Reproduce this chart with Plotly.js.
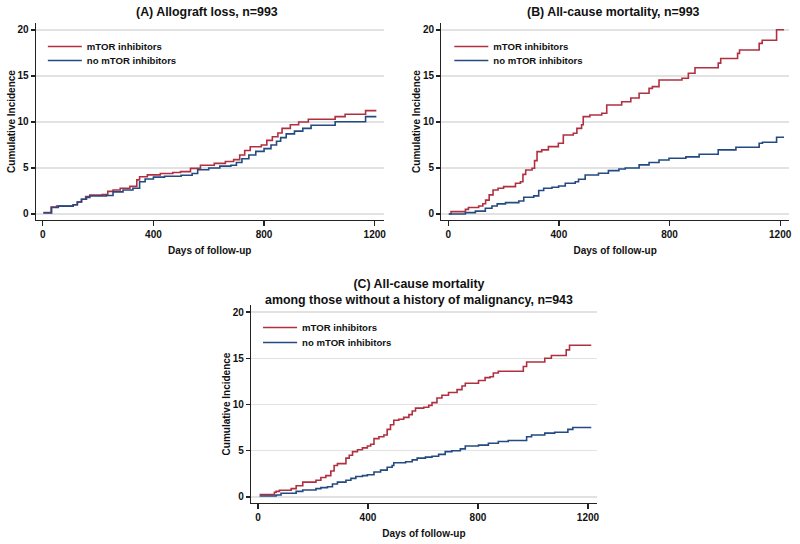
<!DOCTYPE html>
<html><head><meta charset="utf-8">
<script src="https://cdn.plot.ly/plotly-3.0.1.min.js"></script>
<style>html,body{margin:0;padding:0;background:#fff}#chart{width:800px;height:544px}</style>
</head><body><div id="chart"></div>
<script>
// ---- data ----
const seriesNames = ['mTOR inhibitors', 'no mTOR inhibitors'];
const panelTitles = ['(A) Allograft loss, n=993', '(B) All-cause mortality, n=993',
  '(C) All-cause mortality<br>among those without a history of malignancy, n=943'];
const xTitle = 'Days of follow-up';
const yTitle = 'Cumulative Incidence';
const xTicks = [0, 400, 800, 1200];
const yTicks = [0, 5, 10, 15, 20];

// Panel A: allograft loss (step points: day, cumulative incidence %)
const aMtorDays = [2, 30, 50, 110, 125, 140, 155, 170, 215, 235, 254, 280, 315, 340, 350, 378, 425, 470, 498, 534, 570, 620, 660, 690, 712, 730, 750, 790, 810, 830, 850, 865, 895, 925, 960, 1057, 1093, 1167, 1206];
const aMtorInc  = [0.15, 0.75, 0.87, 1.0, 1.3, 1.6, 1.9, 2.05, 2.1, 2.45, 2.6, 2.8, 3.0, 3.7, 4.05, 4.25, 4.4, 4.5, 4.6, 4.95, 5.3, 5.5, 5.7, 5.9, 6.4, 6.9, 7.3, 7.5, 8.0, 8.4, 8.8, 9.3, 9.7, 10.0, 10.29, 10.58, 10.84, 11.23, 11.23];
const aNoDays   = [2, 32, 56, 110, 125, 140, 158, 170, 230, 254, 290, 326, 350, 370, 400, 440, 500, 540, 560, 600, 640, 680, 700, 720, 745, 770, 800, 825, 845, 860, 880, 910, 940, 970, 1057, 1167, 1206];
const aNoInc    = [0.1, 0.7, 0.85, 1.0, 1.3, 1.6, 1.8, 1.95, 2.0, 2.4, 2.6, 2.8, 3.5, 3.8, 4.0, 4.1, 4.2, 4.4, 4.8, 5.0, 5.2, 5.3, 5.6, 6.0, 6.4, 6.8, 7.1, 7.5, 7.9, 8.3, 8.7, 9.0, 9.3, 9.65, 10.03, 10.58, 10.58];

// Panel B: all-cause mortality
const bMtorDays = [2, 10, 62, 73, 110, 125, 135, 148, 162, 180, 200, 243, 261, 270, 280, 303, 312, 321, 338, 362, 398, 416, 452, 465, 482, 488, 512, 555, 573, 627, 660, 690, 726, 738, 762, 845, 868, 892, 976, 985, 1046, 1053, 1124, 1135, 1187, 1214];
const bMtorInc  = [0, 0.25, 0.5, 0.7, 0.87, 1.1, 1.5, 2.07, 2.6, 2.8, 2.97, 3.33, 3.5, 4.3, 4.78, 4.96, 5.8, 6.77, 6.96, 7.32, 7.68, 8.59, 8.77, 9.3, 9.7, 10.58, 10.76, 10.94, 11.85, 12.2, 12.6, 13.12, 13.65, 13.84, 14.57, 14.75, 15.29, 15.9, 16.4, 16.9, 17.46, 17.83, 18.55, 18.88, 20.03, 20.03];
const bNoDays   = [2, 62, 98, 134, 158, 177, 207, 255, 273, 309, 327, 345, 375, 399, 423, 459, 471, 495, 543, 579, 617, 640, 690, 726, 762, 798, 859, 907, 976, 1040, 1124, 1136, 1187, 1214];
const bNoInc    = [0, 0.14, 0.3, 0.62, 0.87, 1.09, 1.23, 1.41, 1.81, 1.96, 2.54, 2.79, 2.9, 3.04, 3.33, 3.5, 3.77, 4.24, 4.42, 4.71, 4.89, 5.0, 5.33, 5.6, 5.87, 6.05, 6.2, 6.49, 6.96, 7.25, 7.68, 7.8, 8.33, 8.33];

// Panel C: all-cause mortality, no history of malignancy
const cMtorDays = [6, 60, 66, 78, 121, 139, 163, 211, 229, 247, 265, 277, 289, 320, 332, 344, 362, 380, 398, 410, 422, 440, 458, 470, 482, 494, 512, 530, 549, 561, 573, 603, 621, 633, 651, 669, 693, 724, 742, 754, 802, 826, 844, 856, 874, 965, 977, 1043, 1067, 1121, 1133, 1212];
const cMtorInc  = [0.25, 0.5, 0.6, 0.72, 0.9, 1.2, 1.6, 1.8, 2.1, 2.3, 2.8, 3.4, 3.6, 4.2, 4.5, 4.9, 5.1, 5.3, 5.5, 5.7, 6.3, 6.5, 6.7, 7.3, 7.8, 8.3, 8.4, 8.6, 8.9, 9.3, 9.6, 9.7, 9.9, 10.2, 10.7, 11.0, 11.3, 11.6, 12.0, 12.3, 12.6, 12.9, 13.0, 13.4, 13.6, 14.1, 14.6, 15.0, 15.3, 15.9, 16.4, 16.4];
const cNoDays   = [6, 66, 84, 139, 163, 211, 229, 253, 271, 289, 320, 338, 356, 380, 398, 422, 446, 470, 488, 494, 537, 561, 579, 609, 633, 657, 681, 705, 736, 754, 802, 838, 874, 910, 977, 995, 1043, 1079, 1127, 1145, 1212];
const cNoInc    = [0.1, 0.2, 0.4, 0.6, 0.75, 0.9, 1.0, 1.1, 1.4, 1.6, 1.8, 2.0, 2.2, 2.3, 2.4, 2.7, 2.9, 3.2, 3.4, 3.7, 3.8, 4.0, 4.2, 4.3, 4.4, 4.6, 4.9, 5.0, 5.2, 5.5, 5.6, 5.8, 6.0, 6.1, 6.5, 6.7, 6.9, 7.0, 7.3, 7.5, 7.5];

// ---- styling ----
const RED = '#b03040';
const BLUE = '#234a82';
const FONT = 'Liberation Sans, Arial, Helvetica, sans-serif';
const INK = '#111111';

function line(x, y, name, color, ax, leg) {
  return {x: x, y: y, name: name, type: 'scatter', mode: 'lines',
    line: {shape: 'hv', color: color, width: 1.6},
    xaxis: ax[0], yaxis: ax[1], legend: leg, hoverinfo: 'skip'};
}
const traces = [
  line(aMtorDays, aMtorInc, seriesNames[0], RED, ['x', 'y'], 'legend'),
  line(aNoDays, aNoInc, seriesNames[1], BLUE, ['x', 'y'], 'legend2'),
  line(bMtorDays, bMtorInc, seriesNames[0], RED, ['x2', 'y2'], 'legend3'),
  line(bNoDays, bNoInc, seriesNames[1], BLUE, ['x2', 'y2'], 'legend4'),
  line(cMtorDays, cMtorInc, seriesNames[0], RED, ['x3', 'y3'], 'legend5'),
  line(cNoDays, cNoInc, seriesNames[1], BLUE, ['x3', 'y3'], 'legend6')
];

function xAxis(domain, anchor) {
  return {domain: domain, anchor: anchor, range: [-25, 1232], tickvals: xTicks,
    ticks: 'outside', ticklen: 5, tickwidth: 1.3, tickcolor: '#222',
    showline: true, linecolor: '#222', linewidth: 1.3, showgrid: false, zeroline: false,
    tickfont: {size: 10, weight: 'bold', color: INK, family: FONT},
    title: {text: xTitle, font: {size: 10, weight: 'bold', color: INK, family: FONT}, standoff: 7},
    automargin: true, fixedrange: true};
}
function yAxis(domain, anchor) {
  return {domain: domain, anchor: anchor, range: [-0.66, 20.76], tickvals: yTicks,
    ticks: 'outside', ticklen: 4, tickwidth: 1.3, tickcolor: '#222',
    showline: true, linecolor: '#222', linewidth: 1.3,
    showgrid: true, gridcolor: '#e2e2e2', gridwidth: 1.2, zeroline: false,
    tickfont: {size: 10, weight: 'bold', color: INK, family: FONT},
    title: {text: yTitle, font: {size: 10, weight: 'bold', color: INK, family: FONT}, standoff: 0},
    automargin: true, fixedrange: true};
}
function legend(x, yTop) {
  return {x: x / 800, y: 1 - yTop / 544, xanchor: 'left', yanchor: 'top', bgcolor: 'rgba(0,0,0,0)',
    borderwidth: 0, itemwidth: 34, font: {size: 9.6, weight: 'bold', color: INK, family: FONT},
    itemclick: false, itemdoubleclick: false};
}
function title(text, x, y) {
  return {text: text, x: x, y: y, xref: 'paper', yref: 'paper', xanchor: 'center', yanchor: 'middle',
    showarrow: false, font: {size: 12.4, weight: 'bold', color: INK, family: FONT}};
}

const topY = [1 - 220 / 544, 1 - 23 / 544];
const botY = [1 - 503 / 544, 1 - 305 / 544];
const layout = {
  width: 800, height: 544, margin: {l: 0, r: 0, t: 0, b: 0},
  paper_bgcolor: '#ffffff', plot_bgcolor: '#ffffff',
  font: {family: FONT, color: INK},
  xaxis: xAxis([36 / 800, 385 / 800], 'y'),
  yaxis: yAxis(topY, 'x'),
  xaxis2: xAxis([443 / 800, 792 / 800], 'y2'),
  yaxis2: yAxis(topY, 'x2'),
  xaxis3: xAxis([252 / 800, 599 / 800], 'y3'),
  yaxis3: yAxis(botY, 'x3'),
  legend: legend(43, 32),
  legend2: legend(43, 46),
  legend3: legend(451, 32),
  legend4: legend(451, 46),
  legend5: legend(259, 313),
  legend6: legend(259, 328),
  annotations: [
    title(panelTitles[0], 208 / 800, 1 - 12 / 544),
    title(panelTitles[1], 616 / 800, 1 - 12 / 544),
    title(panelTitles[2], 421 / 800, 1 - 292 / 544)
  ],
  showlegend: true
};
Plotly.newPlot('chart', traces, layout, {displayModeBar: false, staticPlot: true});
</script>
</body></html>
